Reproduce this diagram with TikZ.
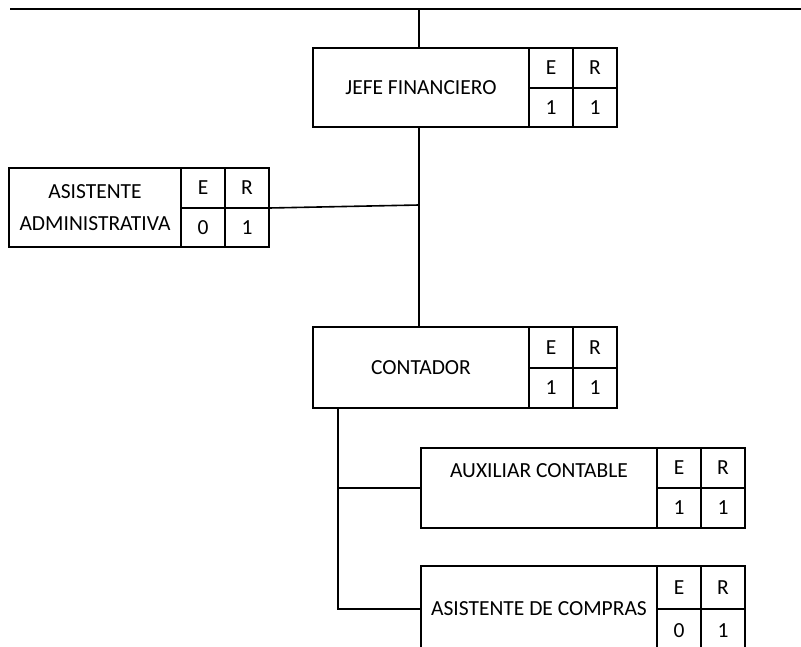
\documentclass[tikz,border=0pt]{standalone}
\usepackage{fontspec}
\setmainfont{Carlito}
\tikzset{
  rule/.style={line width=1.6pt},
  txt/.style={font=\fontsize{21.5}{32}\selectfont},
  namecell/.style={draw, line width=1.6pt, outer sep=0pt, inner sep=0pt,
    anchor=north west, align=center, txt},
  numcell/.style={draw, line width=1.6pt, outer sep=0pt, inner sep=0pt,
    anchor=north west, minimum width=44pt, txt},
}
\begin{document}
\begin{tikzpicture}[x=1pt,y=-1pt]
\useasboundingbox (0,0) rectangle (801,646);
\clip (0,0) rectangle (801,646);

% JEFE FINANCIERO
\node[namecell, minimum width=216pt, minimum height=79pt] (jefe) at (313,48) {JEFE FINANCIERO};
\node[numcell, minimum height=40pt] (jefeE) at (jefe.north east) {E};
\node[numcell, minimum height=40pt] (jefeR) at (jefeE.north east) {R};
\node[numcell, minimum height=39pt] (jefeEv) at (jefeE.south west) {1};
\node[numcell, minimum height=39pt] (jefeRv) at (jefeR.south west) {1};

% ASISTENTE ADMINISTRATIVA
\node[namecell, minimum width=172pt, minimum height=79pt] (asist) at (9,168) {ASISTENTE\\ADMINISTRATIVA};
\node[numcell, minimum height=40pt] (asistE) at (asist.north east) {E};
\node[numcell, minimum height=40pt] (asistR) at (asistE.north east) {R};
\node[numcell, minimum height=39pt] (asistEv) at (asistE.south west) {0};
\node[numcell, minimum height=39pt] (asistRv) at (asistR.south west) {1};

% CONTADOR
\node[namecell, minimum width=216pt, minimum height=81pt] (cont) at (313,327) {CONTADOR};
\node[numcell, minimum height=41pt] (contE) at (cont.north east) {E};
\node[numcell, minimum height=41pt] (contR) at (contE.north east) {R};
\node[numcell, minimum height=40pt] (contEv) at (contE.south west) {1};
\node[numcell, minimum height=40pt] (contRv) at (contR.south west) {1};

% AUXILIAR CONTABLE
\node[namecell, minimum width=236pt, minimum height=80pt] (aux) at (421,448) {};
\node[txt] (auxT) at ([yshift=17pt]aux.center) {AUXILIAR CONTABLE};
\node[numcell, minimum height=40pt] (auxE) at (aux.north east) {E};
\node[numcell, minimum height=40pt] (auxR) at (auxE.north east) {R};
\node[numcell, minimum height=40pt] (auxEv) at (auxE.south west) {1};
\node[numcell, minimum height=40pt] (auxRv) at (auxR.south west) {1};

% ASISTENTE DE COMPRAS (runs past the lower edge)
\node[namecell, minimum width=236pt, minimum height=86pt] (comp) at (421,566) {};
\node[txt] (compT) at (539,609) {ASISTENTE DE COMPRAS};
\node[numcell, minimum height=43pt] (compE) at (comp.north east) {E};
\node[numcell, minimum height=43pt] (compR) at (compE.north east) {R};
\node[numcell, minimum height=43pt] (compEv) at (compE.south west) {0};
\node[numcell, minimum height=43pt] (compRv) at (compR.south west) {1};

% connectors
\coordinate (topL) at (10,9);
\coordinate (topR) at (801,9);
\coordinate (t) at (419,9);
\coordinate (j1) at (419,205);
\coordinate (c) at (338,408);
\draw[rule] (topL) -- (topR);
\draw[rule] (t) -- (t |- jefe.north);
\draw[rule] (t |- jefe.south) -- (t |- cont.north);
\draw[rule] (asistR.south east) -- (j1);
\draw[rule] (c) -- (c |- compT.center) -- (comp.west |- compT.center);
\draw[rule] (c |- aux.west) -- (aux.west);
\end{tikzpicture}
\end{document}
